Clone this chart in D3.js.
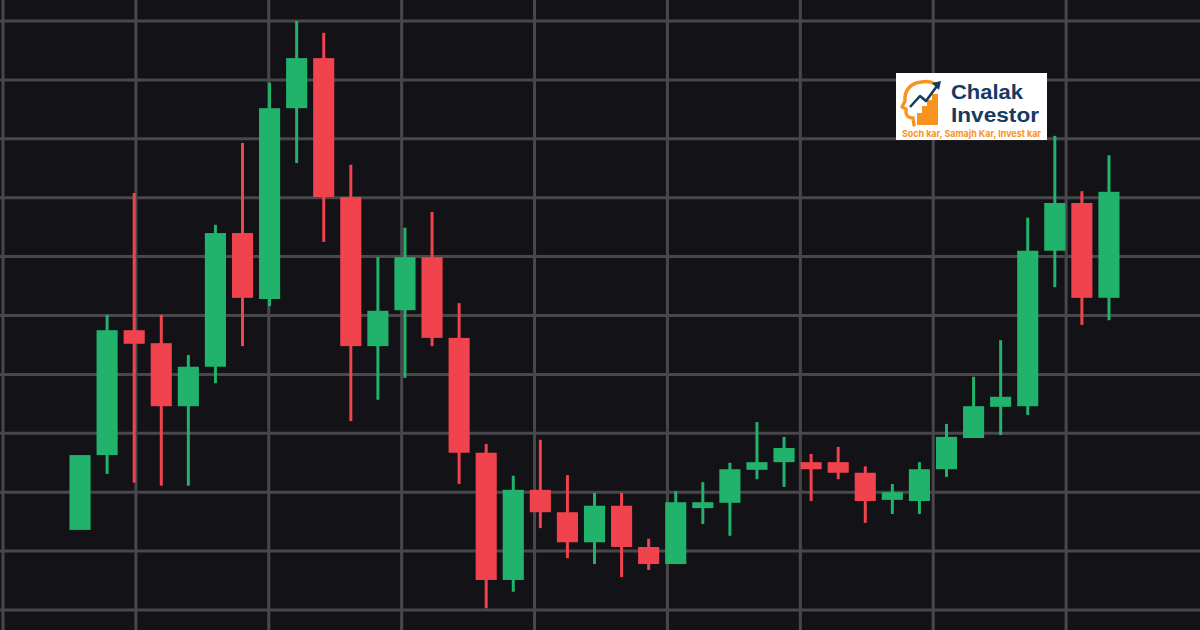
<!DOCTYPE html>
<html>
<head>
<meta charset="utf-8">
<script src="https://cdn.jsdelivr.net/npm/d3@7"></script>
<style>
html,body{margin:0;padding:0;background:#131217;}
svg{display:block;}
</style>
</head>
<body>
<svg id="chart" width="1200" height="630"></svg>
<script>
// ---- data (price units) ----
const opens  = [113.6,126.3,147.5,145.3,134.6,141.3,164.0,152.8,185.2,193.7,170.1,144.8,150.9,159.9,146.2,126.7,105.1,120.4,116.6,111.5,117.7,110.7,107.8,117.3,118.2,123.8,125.1,125.1,125.1,123.3,118.7,118.5,123.9,129.2,134.5,134.6,161.0,169.1,153.0];
const highs  = [126.3,150.1,170.8,150.1,143.3,165.4,179.3,189.5,200.0,198.0,175.6,159.9,164.9,167.6,152.1,128.2,122.8,128.9,122.9,119.9,119.9,112.1,120.2,121.7,125.0,131.9,129.4,126.5,127.7,124.4,121.4,125.1,131.6,139.6,145.8,166.6,180.5,171.1,177.2];
const lows   = [113.6,123.1,121.6,121.1,121.1,138.5,144.8,151.6,175.9,162.5,132.1,135.7,139.4,144.8,121.4,100.3,103.1,113.9,108.8,107.8,105.6,106.8,107.8,114.6,112.6,122.2,120.9,118.5,122.2,114.8,116.3,116.3,122.6,129.2,129.7,133.1,154.8,148.4,149.2];
const closes = [126.3,147.5,145.2,134.6,141.3,164.0,153.0,185.2,193.7,170.1,144.8,150.8,159.9,146.2,126.7,105.1,120.4,116.6,111.5,117.7,110.7,107.8,118.3,118.3,123.9,125.1,127.5,123.9,123.3,118.5,120.0,123.9,129.4,134.6,136.2,161.0,169.1,153.0,171.0];
const priceTicks = [100,110,120,130,140,150,160,170,180,190,200];
const timeTicks = [0,1,2,3,4,5,6,7,8];
const brandName = ["Chalak","Investor"];
const tagline = "Soch kar, Samajh Kar, Invest kar";

const candles = opens.map((o,i)=>({i, o, h:highs[i], l:lows[i], c:closes[i]}));

const svg = d3.select("#chart");
const W = 1200, H = 630;
svg.append("rect").attr("width",W).attr("height",H).attr("fill","#131217");

const y = d3.scaleLinear().domain([100,200]).range([610,21]);
const x = d3.scaleBand().domain(candles.map(d=>d.i)).range([66.5,1122.5]).paddingInner(0.22).paddingOuter(0.11);
const gx = d3.scaleLinear().domain([0,9]).range([3,1199]);

const grid = svg.append("g").attr("stroke","#48474c").attr("stroke-width",3);
grid.selectAll("line.h").data(priceTicks).join("line").attr("class","h")
  .attr("x1",0).attr("x2",W).attr("y1",d=>y(d)).attr("y2",d=>y(d));
grid.selectAll("line.v").data(timeTicks).join("line").attr("class","v")
  .attr("y1",0).attr("y2",H).attr("x1",d=>gx(d)).attr("x2",d=>gx(d));

const green = "#21b36b", red = "#f0434e";
const g = svg.append("g");
const cg = g.selectAll("g.c").data(candles).join("g").attr("class","c");
cg.append("line")
  .attr("x1",d=>x(d.i)+x.bandwidth()/2).attr("x2",d=>x(d.i)+x.bandwidth()/2)
  .attr("y1",d=>y(d.h)).attr("y2",d=>y(d.l))
  .attr("stroke",d=>d.c>=d.o?green:red).attr("stroke-width",3);
cg.append("rect")
  .attr("x",d=>x(d.i)).attr("width",x.bandwidth())
  .attr("y",d=>y(Math.max(d.o,d.c)))
  .attr("height",d=>Math.max(3,Math.abs(y(d.o)-y(d.c))))
  .attr("fill",d=>d.c>=d.o?green:red);

// ---- logo ----
const logo = svg.append("g").attr("transform","translate(896,73)");
logo.append("rect").attr("width",151).attr("height",67).attr("fill","#ffffff");
const orange = "#f7931e", navy = "#163a63";
// head profile (facing left)
logo.append("path")
  .attr("d","M18,52 L17,45 C13,45 10,43 10,39 L10,36 L6,34 L9,28 C8,17 15,10 25,9 C31,8 36,9 39,11")
  .attr("fill","none").attr("stroke",orange).attr("stroke-width",3.4).attr("stroke-linejoin","round").attr("stroke-linecap","round");
// bars
logo.append("path").attr("d","M21,52 L21,40 L26,40 L26,33 L31,33 L31,27 L36,27 L36,21 L42,21 L42,52 Z").attr("fill",orange);
// arrow
logo.append("path").attr("d","M14,34 L24,23 L30,28 L41,13").attr("fill","none").attr("stroke",navy).attr("stroke-width",2.6).attr("stroke-linejoin","round");
logo.append("path").attr("d","M45,8 L36,10 L43,17 Z").attr("fill",navy);
logo.selectAll("text.b").data(brandName).join("text").attr("class","b")
  .attr("x",55).attr("y",(d,i)=>i===0?26:49)
  .attr("font-family","'Liberation Sans', Arial, sans-serif").attr("font-weight",700)
  .attr("font-size",20.5).attr("fill",navy)
  .attr("textLength",(d,i)=>i===0?72:88).attr("lengthAdjust","spacingAndGlyphs")
  .text(d=>d);
logo.append("text").attr("x",6).attr("y",64)
  .attr("font-family","Inter, Roboto, sans-serif").attr("font-weight",700)
  .attr("font-size",9.5).attr("fill",orange)
  .attr("textLength",139).attr("lengthAdjust","spacingAndGlyphs")
  .text(tagline);
</script>
</body>
</html>
